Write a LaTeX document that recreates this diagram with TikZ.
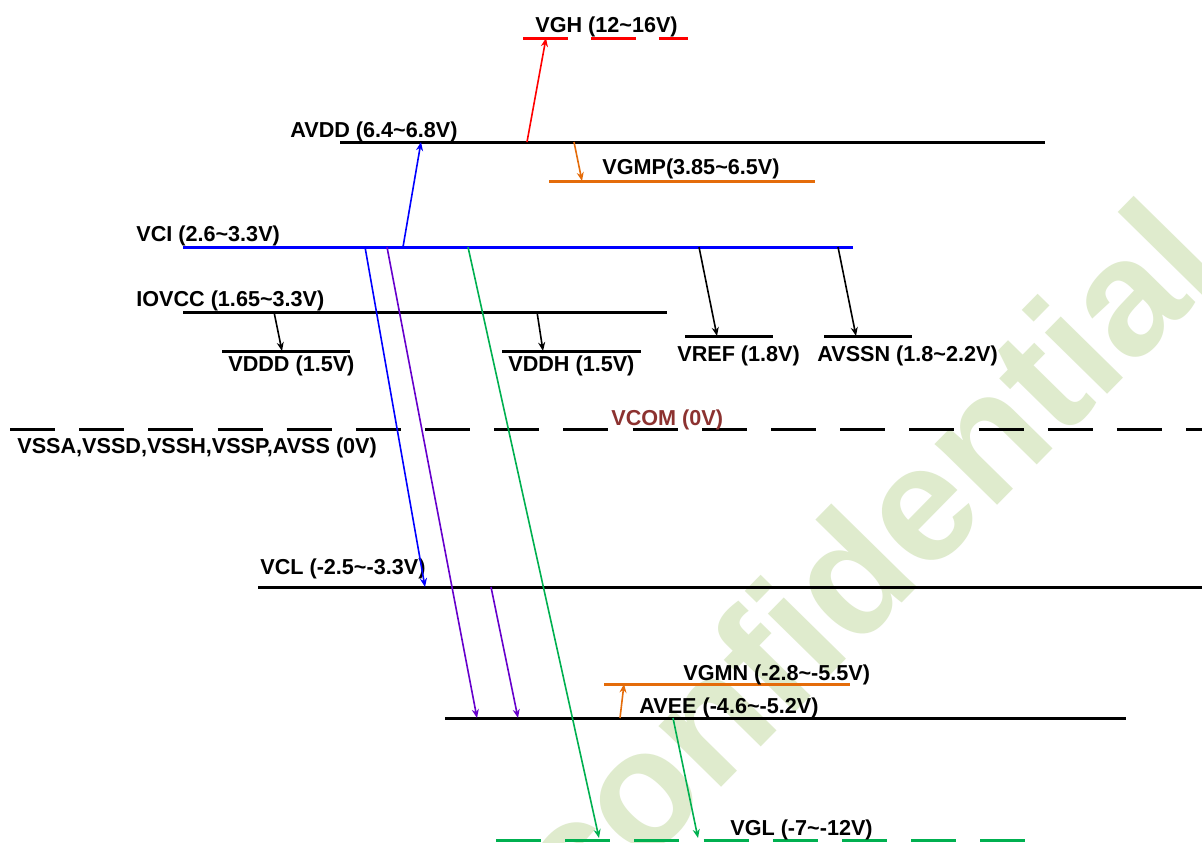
\documentclass[tikz,border=0pt]{standalone}
\usepackage{fontspec}
\setmainfont{Liberation Sans}
\usepackage{xcolor}
\usetikzlibrary{arrows.meta}
\definecolor{vorange}{RGB}{228,108,10}
\definecolor{vpurple}{RGB}{102,0,204}
\definecolor{vgreen}{RGB}{0,176,80}
\definecolor{vbrown}{RGB}{140,50,48}
\definecolor{wmark}{RGB}{223,235,205}
\begin{document}
\begin{tikzpicture}[x=0.02cm,y=-0.02cm,
    lvl/.style={line width=0.06cm},
    dashlvl/.style={lvl,dash pattern=on 0.9cm off 0.484cm},
    conn/.style={line width=0.032cm,-{Stealth[length=5pt,width=4pt]}},
    lbl/.style={anchor=base west,inner sep=0pt,font=\fontsize{12.3}{14}\selectfont\bfseries}]
            \useasboundingbox (0,0) rectangle (1202,842);
            \clip (0,0) rectangle (1202,842);
            \fill[white] (0,0) rectangle (1202,842);
            \node[anchor=base,inner sep=0pt,rotate=45.5,text=wmark,font=\fontsize{94}{96}\selectfont\bfseries] (wm) at (903,602) {confidential};

            % levels
            \draw[lvl,red,dash pattern=on 0.9cm off 0.46cm] (523,38)--(688,38);
            \draw[lvl] (340,142)--(1045,142);
            \draw[lvl,vorange] (549,181)--(815,181);
            \draw[lvl,blue] (183,247)--(853,247);
            \draw[lvl] (183,312)--(667,312);
            \draw[lvl] (222,351)--(350,351);
            \draw[lvl] (502,351)--(641,351);
            \draw[lvl] (685,336)--(773,336);
            \draw[lvl] (824,336)--(912,336);
            \draw[dashlvl] (10,429)--(1202,429);
            \draw[lvl] (258,587)--(1202,587);
            \draw[lvl,vorange] (604,684)--(850,684);
            \draw[lvl] (445,718)--(1126,718);
            \draw[dashlvl,vgreen] (496,840)--(1025,840);

            % labels
            \node[lbl] (vgh) at (535,32) {VGH (12\textasciitilde16V)};
            \node[lbl] (avdd) at (290,137) {AVDD (6.4\textasciitilde6.8V)};
            \node[lbl] (vgmp) at (602,174) {VGMP(3.85\textasciitilde6.5V)};
            \node[lbl] (vci) at (136,241) {VCI (2.6\textasciitilde3.3V)};
            \node[lbl] (iovcc) at (136,306) {IOVCC (1.65\textasciitilde3.3V)};
            \node[lbl] (vddd) at (228,371) {VDDD (1.5V)};
            \node[lbl] (vddh) at (508,371) {VDDH (1.5V)};
            \node[lbl] (vref) at (677,361) {VREF (1.8V)};
            \node[lbl] (avssn) at (817,361) {AVSSN (1.8\textasciitilde2.2V)};
            \node[lbl] (vss) at (17,453) {VSSA,VSSD,VSSH,VSSP,AVSS (0V)};
            \node[lbl,text=vbrown] (vcom) at (611,425) {VCOM (0V)};
            \node[lbl] (vcl) at (260,574) {VCL (-2.5\textasciitilde-3.3V)};
            \node[lbl] (vgmn) at (683,680) {VGMN (-2.8\textasciitilde-5.5V)};
            \node[lbl] (avee) at (639,713) {AVEE (-4.6\textasciitilde-5.2V)};
            \node[lbl] (vgl) at (730,835) {VGL (-7\textasciitilde-12V)};

            % arrow ends
            \coordinate (ci1) at (365,247);
            \coordinate (ci2) at (387,247);
            \coordinate (ci3) at (403,247);
            \coordinate (ci4) at (468,247);
            \coordinate (ci5) at (699,247);
            \coordinate (ci6) at (838,247);
            \coordinate (ad1) at (421,142);
            \coordinate (ad2) at (527,142);
            \coordinate (ad3) at (574,142);
            \coordinate (gh1) at (546,38);
            \coordinate (gp1) at (582,181);
            \coordinate (io1) at (274,312);
            \coordinate (io2) at (537,312);
            \coordinate (dd1) at (282,351);
            \coordinate (dh1) at (543,351);
            \coordinate (rf1) at (717,336);
            \coordinate (sn1) at (856,336);
            \coordinate (cl1) at (425,587);
            \coordinate (cl2) at (491,587);
            \coordinate (ae1) at (477,718);
            \coordinate (ae2) at (518,718);
            \coordinate (ae3) at (620,718);
            \coordinate (ae4) at (673,718);
            \coordinate (gn1) at (624,684);
            \coordinate (gl1) at (599,838);
            \coordinate (gl2) at (698,838);

            % arrows
            \draw[conn,blue] (ci3)--(ad1);
            \draw[conn,red] (ad2)--(gh1);
            \draw[conn,vorange] (ad3)--(gp1);
            \draw[conn] (io1)--(dd1);
            \draw[conn] (io2)--(dh1);
            \draw[conn] (ci5)--(rf1);
            \draw[conn] (ci6)--(sn1);
            \draw[conn,blue] (ci1)--(cl1);
            \draw[conn,vpurple] (ci2)--(ae1);
            \draw[conn,vpurple] (cl2)--(ae2);
            \draw[conn,vgreen] (ci4)--(gl1);
            \draw[conn,vorange] (ae3)--(gn1);
            \draw[conn,vgreen] (ae4)--(gl2);
        \end{tikzpicture}
\end{document}
